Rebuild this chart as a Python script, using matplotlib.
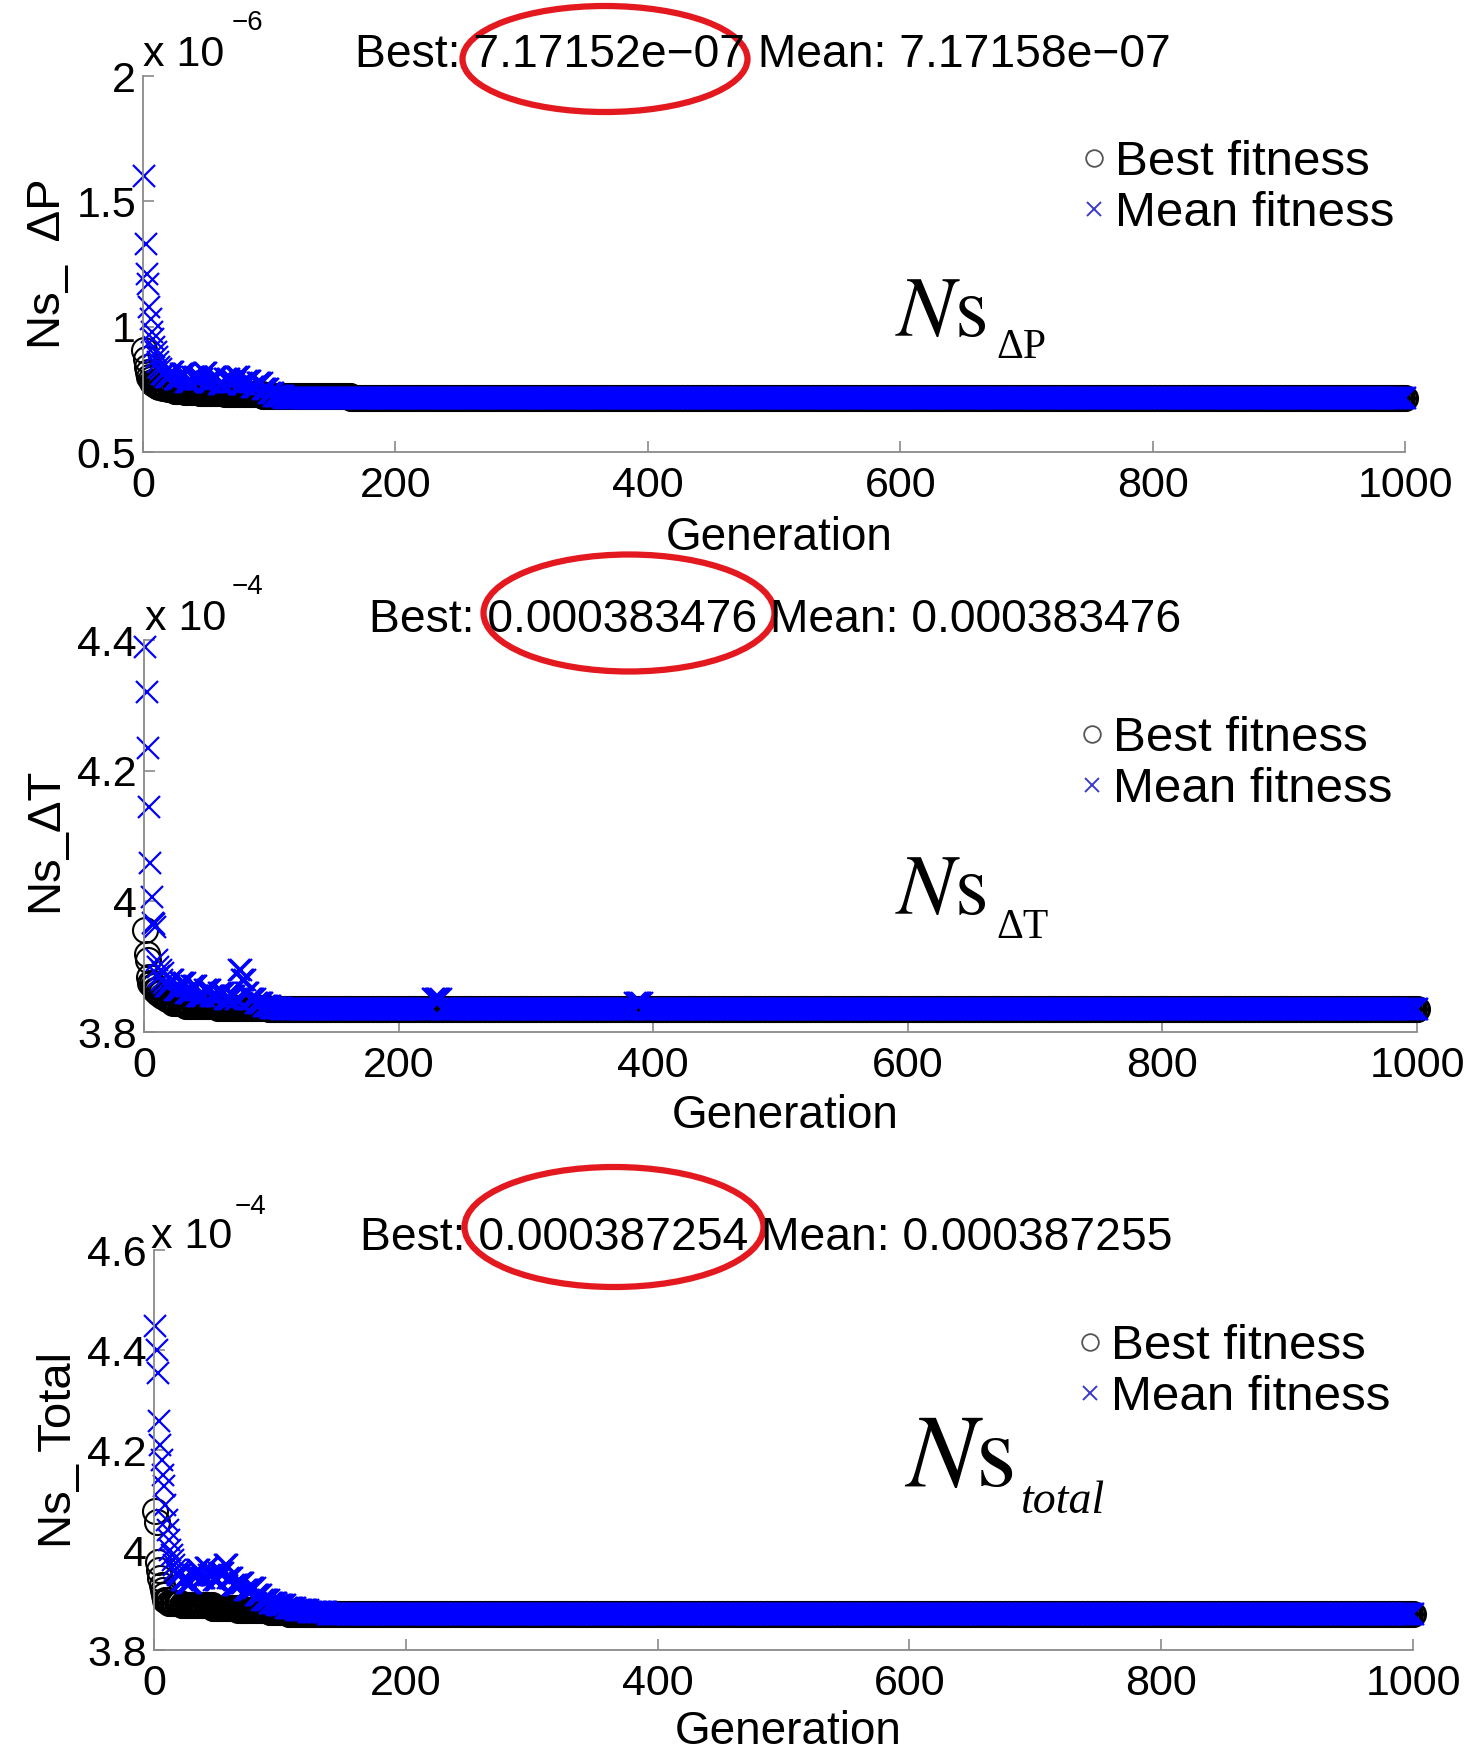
import numpy as np
import matplotlib.pyplot as plt
from matplotlib.patches import Ellipse
from matplotlib.lines import Line2D

plt.rcParams['font.family'] = ['Liberation Sans', 'DejaVu Sans']
plt.rcParams['mathtext.fontset'] = 'stix'

W, H = 1469, 1754

# --- data (run-length encoded: value, number of generations) ---
# panel 1, units of 1e-6
p1_best_vals = [0.907, 0.87, 0.84, 0.82, 0.80, 0.79, 0.78, 0.775, 0.77, 0.765, 0.76, 0.755,
                0.75, 0.745, 0.74, 0.735, 0.73, 0.722, 0.717152]
p1_best_runs = [1, 1, 1, 1, 1, 1, 1, 1, 2, 2, 3, 4, 5, 8, 12, 20, 30, 70, 836]
p1_mean_vals = [1.60, 1.33, 1.21, 1.17, 1.08, 1.03, 0.98, 0.95, 0.92, 0.90, 0.88, 0.86, 0.84, 0.83,
                0.81, 0.80, 0.82, 0.79, 0.81, 0.78, 0.80, 0.79, 0.815, 0.78, 0.80, 0.77, 0.79, 0.78,
                0.80, 0.77, 0.785, 0.76, 0.775, 0.75, 0.735, 0.725, 0.717158]
p1_mean_runs = [1] * 14 + [3, 4, 3, 5, 4, 5, 4, 5, 3, 5, 4, 5, 4, 5, 3, 5, 4, 5, 4, 5, 4, 8] + [889]

# panel 2, units of 1e-4
p2_best_vals = [3.956, 3.92, 3.91, 3.884, 3.875, 3.87, 3.865, 3.86, 3.855, 3.85, 3.845, 3.84,
                3.8375, 3.83476]
p2_best_runs = [1, 1, 1, 1, 2, 2, 2, 3, 4, 5, 10, 25, 40, 903]
p2_mean_vals = [4.39, 4.32, 4.235, 4.144, 4.059, 4.007, 3.967, 3.965, 3.96, 3.91, 3.90, 3.885,
                3.895, 3.88, 3.89, 3.875,
                3.87, 3.88, 3.865, 3.875, 3.86, 3.87, 3.855, 3.865, 3.855, 3.86, 3.85, 3.855, 3.85,
                3.895, 3.88, 3.86, 3.85, 3.845, 3.84, 3.837,
                3.83476, 3.85, 3.83476, 3.845, 3.83476]
p2_mean_runs = [1] * 16 + [4, 3, 5, 4, 5, 4, 6, 5, 6, 5, 5, 3, 3] + [2, 3, 3, 5, 6, 6, 8] + [119, 7, 152, 6, 609]

# panel 3, units of 1e-4
p3_best_vals = [4.078, 4.056, 3.976, 3.96, 3.945, 3.93, 3.92, 3.91, 3.90, 3.895, 3.89, 3.885,
                3.88, 3.876, 3.87254]
p3_best_runs = [1, 1, 1, 1, 1, 1, 1, 1, 3, 10, 25, 20, 25, 15, 894]
p3_mean_vals = [4.448, 4.40, 4.354, 4.259, 4.21, 4.18, 4.15, 4.128, 4.09, 4.06, 4.04, 4.02, 4.00,
                3.99, 3.98, 3.97, 3.96, 3.955,
                3.95, 3.94, 3.935, 3.95, 3.96, 3.945, 3.965, 3.95, 3.94, 3.955, 3.97, 3.945, 3.93,
                3.935, 3.92, 3.925, 3.91, 3.90, 3.895, 3.89, 3.885, 3.88, 3.876,
                3.87255]
p3_mean_runs = [1] * 18 + [3, 4, 4, 4, 3, 4, 3, 4, 4, 4, 3, 4, 5, 4, 5, 4, 5, 6, 6, 7, 8, 10, 15] + [863]

titles = ['Best: 7.17152e\u221207 Mean: 7.17158e\u221207',
          'Best: 0.000383476 Mean: 0.000383476',
          'Best: 0.000387254 Mean: 0.000387255']
ylabels = ['Ns_  \u0394P', 'Ns_\u0394T', 'Ns_ Total']
exponents = ['\u22126', '\u22124', '\u22124']
yticks = [[0.5, 1, 1.5, 2], [3.8, 4, 4.2, 4.4], [3.8, 4, 4.2, 4.4, 4.6]]
yticklabels = [['0.5', '1', '1.5', '2'], ['3.8', '4', '4.2', '4.4'], ['3.8', '4', '4.2', '4.4', '4.6']]
xticks = [0, 200, 400, 600, 800, 1000]
subscripts = ['\u0394P', '\u0394T', 'total']

best = [np.repeat(p1_best_vals, p1_best_runs), np.repeat(p2_best_vals, p2_best_runs),
        np.repeat(p3_best_vals, p3_best_runs)]
mean = [np.repeat(p1_mean_vals, p1_mean_runs), np.repeat(p2_mean_vals, p2_mean_runs),
        np.repeat(p3_mean_vals, p3_mean_runs)]

fig = plt.figure(figsize=(W / 100, H / 100), dpi=100)


def ftext(x, y, s, **kw):
    # place text using pixel coordinates of the picture
    return fig.text(x / W, 1 - y / H, s, **kw)


# axes boxes in pixels: left, top, right, bottom
boxes = [(143, 76, 1405, 452), (144, 640, 1417, 1032), (154, 1250, 1413, 1650)]
title_pos = [(763, 67), (775, 632), (766, 1250)]
x10_pos = [(143, 66, 232, 30), (145, 630, 232, 594), (151, 1248, 235, 1214)]
ellipses = [(605, 59, 285, 106), (629, 613, 291, 117), (614, 1227, 299, 120)]
ns_pos = [(895, 336, 996, 358, 62), (895, 914, 996, 938, 62), (904, 1486, 1021, 1513, 75)]
legend_pos = [(1080, 140), (1078, 716), (1076, 1324)]
xlabel_y = [538, 1116, 1732]
ylabel_x = [(-0.058, 0.5), (-0.060, 0.49), (-0.058, 0.5)]

for i in range(3):
    l, t, r, b = boxes[i]
    ax = fig.add_axes([l / W, 1 - b / H, (r - l) / W, (b - t) / H])
    gen = np.arange(1, len(best[i]) + 1)
    ax.plot(gen, best[i], 'o', ms=18, mfc='none', mec='black', mew=1.5, clip_on=False)
    ax.plot(gen, mean[i], 'x', ms=16, color=(0, 0, 1), mew=1.6, clip_on=False)

    ax.set_xlim(0, 1000)
    ax.set_ylim(yticks[i][0], yticks[i][-1])
    ax.set_xticks(xticks)
    ax.set_xticklabels([str(v) for v in xticks])
    ax.set_yticks(yticks[i])
    ax.set_yticklabels(yticklabels[i])
    for s in ['top', 'right']:
        ax.spines[s].set_visible(False)
    for s in ['left', 'bottom']:
        ax.spines[s].set_color('#8a8a8a')
        ax.spines[s].set_linewidth(1.3)
    ax.tick_params(direction='in', length=8, width=1.2, color='#8a8a8a', labelsize=31)
    ax.tick_params(axis='x', pad=10)
    ax.tick_params(axis='y', pad=5)

    ax.set_ylabel(ylabels[i], fontsize=34)
    ax.yaxis.set_label_coords(*ylabel_x[i])
    ftext((l + r) / 2 + 5, xlabel_y[i], 'Generation', fontsize=33, ha='center', va='center')

    # title with best / mean values
    tx, ty = title_pos[i]
    ftext(tx, ty, titles[i], fontsize=33.3, ha='center', va='baseline')

    # exponent label
    x1, y1, x2, y2 = x10_pos[i]
    ftext(x1, y1, 'x 10', fontsize=31, ha='left', va='baseline')
    ftext(x2, y2, exponents[i], fontsize=20, ha='left', va='baseline')

    # red ellipse around the best value
    cx, cy, ew, eh = ellipses[i]
    fig.patches.append(Ellipse((cx / W, 1 - cy / H), ew / W, eh / H, transform=fig.transFigure,
                               fill=False, edgecolor='#e3191f', linewidth=4.5))

    # Ns annotation
    nx, ny, sx, sy, fs = ns_pos[i]
    ftext(nx, ny, r'$N\mathrm{s}$', fontsize=fs, ha='left', va='baseline')
    ftext(sx, sy, subscripts[i], fontsize=33 if i == 2 else 30, ha='left', va='baseline',
          family='Liberation Serif', style='italic' if i == 2 else 'normal')

    handles = [Line2D([], [], ls='none', marker='o', ms=12, mfc='none', mec='#555555', mew=1.3),
               Line2D([], [], ls='none', marker='x', ms=10, color='#3a3acf', mew=1.4)]
    lx, ly = legend_pos[i]
    ax.legend(handles, ['Best fitness', 'Mean fitness'], loc='upper left',
              bbox_to_anchor=(lx / W, 1 - ly / H), bbox_transform=fig.transFigure,
              frameon=False, fontsize=35.5, borderpad=0, borderaxespad=0, handlelength=0.55,
              handletextpad=0.15, labelspacing=0.12)

fig.savefig('out.png', dpi=100)
